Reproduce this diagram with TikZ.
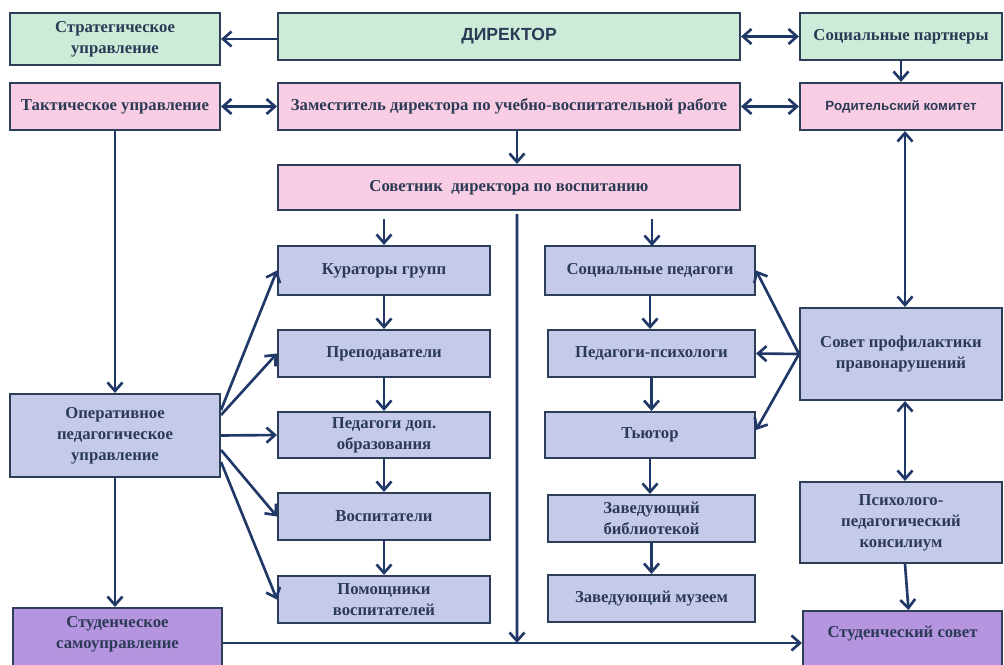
\documentclass[tikz,border=0pt]{standalone}
\usepackage{fontspec}
\setmainfont{Liberation Serif}
\newfontfamily\sansbold{Liberation Sans}
\usetikzlibrary{arrows.meta,shadows}
\definecolor{cgreen}{HTML}{CCEBD8}
\definecolor{cpink}{HTML}{F9CDE3}
\definecolor{clav}{HTML}{C4CAE8}
\definecolor{cpurp}{HTML}{B594E0}
\definecolor{cbord}{HTML}{2D3E58}
\definecolor{carr}{HTML}{1F3867}
\definecolor{ctext}{HTML}{2B3A55}
\begin{document}
\begin{tikzpicture}[x=0.02cm,y=-0.02cm,
  box/.style={draw=cbord,line width=1.2pt,align=center,inner sep=1pt,
    font=\fontsize{9.5}{12}\selectfont\bfseries,text=ctext,
    drop shadow={shadow xshift=0.6pt,shadow yshift=-0.8pt,opacity=0.35}},
  gbox/.style={box,fill=cgreen},
  pbox/.style={box,fill=cpink},
  lbox/.style={box,fill=clav},
  ubox/.style={box,fill=cpurp},
  lbl/.style={align=center,inner sep=0pt,font=\fontsize{9.5}{12}\selectfont\bfseries,text=ctext},
  arr/.style={draw=carr,line width=1.5pt,-{Straight Barb[length=1.7mm,width=3mm,line width=1.5pt]}},
  darr/.style={draw=carr,line width=1.5pt,{Straight Barb[length=1.7mm,width=3mm,line width=1.5pt]}-{Straight Barb[length=1.7mm,width=3mm,line width=1.5pt]}},
  ln/.style={draw=carr,line width=1.5pt}]
\useasboundingbox (0,0) rectangle (1004,665);
\clip (0,0) rectangle (1004,665);
\fill[white] (0,0) rectangle (1004,665);

% row 1
\node[gbox,minimum width=4.2cm,minimum height=1.04cm] (strat) at (115,39) {Стратегическое\\управление};
\node[gbox,minimum width=9.24cm,minimum height=0.94cm,font=\sansbold\fontsize{10}{12}\selectfont\bfseries] (dir) at (509,36.5) {ДИРЕКТОР};
\node[gbox,minimum width=4.04cm,minimum height=0.94cm] (soc) at (901,36.5) {Социальные партнеры};
% row 2
\node[pbox,minimum width=4.2cm,minimum height=0.94cm] (takt) at (115,106.5) {Тактическое управление};
\node[pbox,minimum width=9.24cm,minimum height=0.94cm] (zam) at (509,106.5) {Заместитель директора по учебно-воспитательной работе};
\node[pbox,minimum width=4.04cm,minimum height=0.94cm,font=\sansbold\fontsize{7.6}{9}\selectfont\bfseries] (rod) at (901,106.5) {Родительский комитет};
% row 3
\node[pbox,minimum width=9.24cm,minimum height=0.9cm] (sov) at (509,187.5) {Советник\ \ директора по воспитанию};
% left column
\node[lbox,minimum width=4.24cm,minimum height=0.98cm] (kur) at (384,270.5) {Кураторы групп};
\node[lbox,minimum width=4.24cm,minimum height=0.94cm] (prep) at (384,353.5) {Преподаватели};
\node[lbox,minimum width=4.24cm,minimum height=0.92cm] (dop) at (384,435) {Педагоги доп.\\образования};
\node[lbox,minimum width=4.24cm,minimum height=0.94cm] (vosp) at (384,516.5) {Воспитатели};
\node[lbox,minimum width=4.24cm,minimum height=0.94cm] (pom) at (384,599.5) {Помощники\\воспитателей};
% right column
\node[lbox,minimum width=4.2cm,minimum height=0.98cm] (socped) at (650,270.5) {Социальные педагоги};
\node[lbox,minimum width=4.14cm,minimum height=0.94cm] (psih) at (651.5,353.5) {Педагоги-психологи};
\node[lbox,minimum width=4.2cm,minimum height=0.92cm] (tut) at (650,435) {Тьютор};
\node[lbox,minimum width=4.14cm,minimum height=0.94cm] (bib) at (651.5,518.5) {Заведующий\\библиотекой};
\node[lbox,minimum width=4.14cm,minimum height=0.94cm] (muz) at (651.5,598.5) {Заведующий музеем};
% far right
\node[lbox,minimum width=4.04cm,minimum height=1.84cm] (profil) at (901,354) {Совет профилактики\\правонарушений};
\node[lbox,minimum width=4.04cm,minimum height=1.62cm] (konsil) at (901,522.5) {Психолого-\\педагогический\\консилиум};
\node[ubox,minimum width=3.98cm,minimum height=1.8cm,anchor=north] (stsov) at (902.5,610) {};
\node[lbl] (stsovt) at (902.5,634) {Студенческий совет};
% far left
\node[lbox,minimum width=4.2cm,minimum height=1.66cm] (oper) at (115,435.5) {Оперативное\\педагогическое\\управление};
\node[ubox,minimum width=4.18cm,minimum height=1.8cm,anchor=north] (stsam) at (117.5,607) {};
\node[lbl] (stsamt) at (117.5,634) {Студенческое\\самоуправление};

\coordinate (hl) at (517,643);

% connectors
\draw[arr] (dir.west |- strat.east) -- (strat.east);
\draw[darr] (dir.east) -- (soc.west);
\draw[arr] (soc.south) -- (rod.north);
\draw[darr] (takt.east) -- (zam.west);
\draw[darr] (zam.east) -- (rod.west);
\draw[arr] ([xshift=0.16cm]zam.south) -- ([xshift=0.16cm]sov.north);
\draw[arr] (takt.south) -- (oper.north);
\draw[darr] ([xshift=0.08cm]rod.south) -- ([xshift=0.08cm]profil.north);
\draw[darr] ([xshift=0.08cm]profil.south) -- ([xshift=0.08cm]konsil.south |- konsil.north);
\draw[arr] ([xshift=0.08cm]konsil.south) -- ([xshift=0.12cm]stsov.north);

\draw[arr] ([yshift=-0.16cm]sov.south -| kur.north) -- (kur.north);
\draw[arr] ([yshift=-0.16cm]sov.south -| 652,0) -- (652,246);
\draw[arr] ([xshift=0.16cm,yshift=-0.06cm]sov.south) -- (hl);
\draw[arr] (stsam.east |- hl) -- (stsov.west |- hl);

\draw[arr] (kur.south) -- (prep.north);
\draw[arr] (prep.south) -- (dop.north);
\draw[arr] (dop.south) -- (vosp.north);
\draw[arr] (vosp.south) -- (pom.north);

\draw[arr] (socped.south) -- (socped.south |- psih.north);
\draw[arr] (psih.south) -- (psih.south |- tut.north);
\draw[arr] (tut.south) -- (tut.south |- bib.north);
\draw[arr] (bib.south) -- (muz.north);

\draw[arr] ([yshift=0.51cm]oper.east) -- (kur.west);
\draw[arr] ([yshift=0.41cm]oper.east) -- (prep.west);
\draw[arr] (oper.east) -- (dop.west);
\draw[arr] ([yshift=-0.29cm]oper.east) -- (vosp.west);
\draw[arr] ([yshift=-0.53cm]oper.east) -- (pom.west);

\draw[arr] (profil.west) -- (socped.east);
\draw[arr] (profil.west) -- (psih.east);
\draw[arr] (profil.west) -- ([yshift=0.1cm]tut.east);

\draw[arr] (oper.south) -- (oper.south |- stsam.north);
\end{tikzpicture}
\end{document}
